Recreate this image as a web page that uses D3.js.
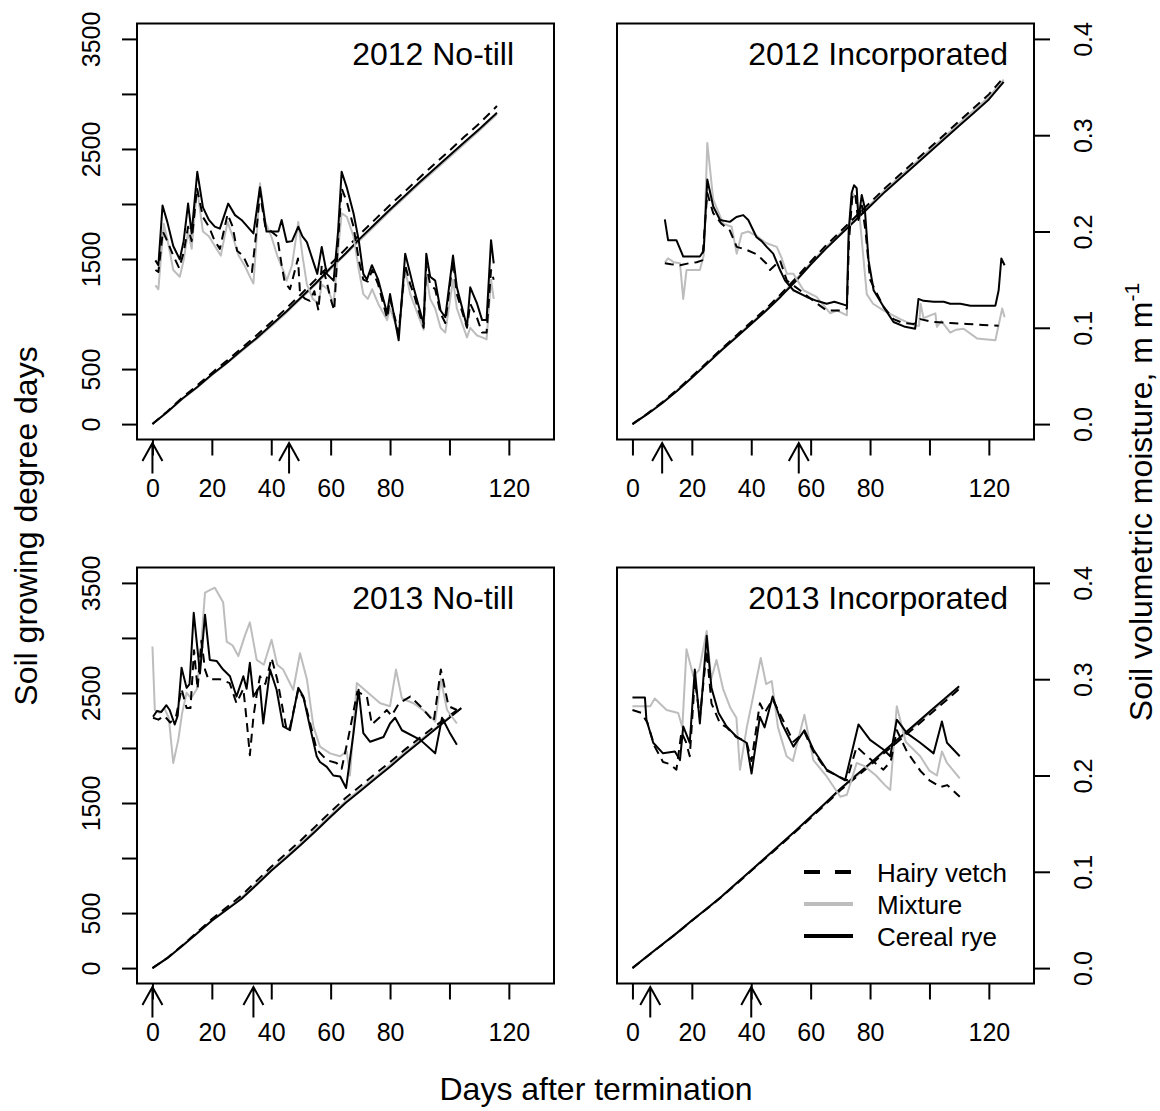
<!DOCTYPE html>
<html>
<head>
<meta charset="utf-8">
<script src="https://cdn.jsdelivr.net/npm/d3@7"></script>
<style>
  body { margin: 0; background: #fff; }
  svg { display: block; }
  text { font-family: "Liberation Sans", Arial, Helvetica, sans-serif; fill: #000; }
</style>
</head>
<body>
<svg id="fig" width="1160" height="1111"></svg>
<script>
// ---------------- data ----------------
const panelTitles = ["2012 No-till", "2012 Incorporated", "2013 No-till", "2013 Incorporated"];
const treatments = ["Hairy vetch", "Mixture", "Cereal rye"];
const xTicks = [0, 20, 40, 60, 80, 100, 120];
const xTickLabels = ["0", "20", "40", "60", "80", "", "120"];
const gddTicks = [0, 500, 1000, 1500, 2000, 2500, 3000, 3500];
const gddTickLabels = ["0", "500", "", "1500", "", "2500", "", "3500"];
const moistTicks = [0, 0.1, 0.2, 0.3, 0.4];
const moistTickLabels = ["0.0", "0.1", "0.2", "0.3", "0.4"];
// days of the two arrows under each panel
const arrowDays = [[0, 46], [10, 56], [0, 34], [6, 40]];

// cumulative soil growing degree days: [day, GDD]
const gdd12NT_hv  = [[0,0],[5,115],[10,240],[15,350],[20,465],[25,575],[30,690],[35,805],[40,925],[45,1050],[50,1180],[55,1315],[60,1455],[65,1590],[70,1730],[75,1860],[80,1990],[85,2115],[90,2240],[95,2365],[100,2485],[105,2610],[110,2730],[116,2890]];
const gdd12NT_mix = [[0,0],[5,108],[10,225],[15,330],[20,443],[25,550],[30,662],[35,772],[40,890],[45,1010],[50,1140],[55,1270],[60,1408],[65,1540],[70,1675],[75,1805],[80,1935],[85,2060],[90,2185],[95,2305],[100,2425],[105,2545],[110,2665],[116,2815]];
const gdd12NT_rye = [[0,0],[5,110],[10,230],[15,335],[20,450],[25,555],[30,670],[35,780],[40,900],[45,1020],[50,1150],[55,1280],[60,1420],[65,1550],[70,1690],[75,1820],[80,1950],[85,2075],[90,2200],[95,2320],[100,2440],[105,2560],[110,2680],[116,2830]];

const gdd12Inc_hv  = [[0,0],[5,95],[10,198],[15,310],[20,432],[25,558],[30,684],[35,806],[40,928],[45,1050],[50,1182],[55,1325],[60,1476],[65,1618],[70,1750],[75,1882],[80,2012],[85,2143],[90,2265],[95,2386],[100,2508],[105,2630],[110,2752],[115,2874],[120,2996],[125,3150]];
const gdd12Inc_mix = [[0,0],[5,92],[10,194],[15,305],[20,426],[25,551],[30,677],[35,798],[40,919],[45,1040],[50,1171],[55,1312],[60,1463],[65,1604],[70,1735],[75,1866],[80,1996],[85,2126],[90,2247],[95,2368],[100,2489],[105,2610],[110,2731],[115,2852],[120,2973],[125,3130]];
const gdd12Inc_rye = [[0,0],[5,90],[10,190],[15,300],[20,420],[25,545],[30,670],[35,790],[40,910],[45,1030],[50,1160],[55,1300],[60,1450],[65,1590],[70,1720],[75,1850],[80,1980],[85,2110],[90,2230],[95,2350],[100,2470],[105,2590],[110,2710],[115,2830],[120,2950],[125,3110]];

const gdd13NT_hv  = [[0,0],[5,92],[10,205],[15,325],[20,445],[25,552],[30,660],[35,790],[40,920],[45,1040],[50,1162],[55,1290],[60,1420],[65,1545],[70,1655],[75,1765],[80,1872],[85,1985],[90,2092],[95,2195],[100,2295],[104,2372]];
const gdd13NT_mix = [[0,0],[5,90],[10,202],[15,318],[20,435],[25,538],[30,640],[35,768],[40,895],[45,1012],[50,1135],[55,1260],[60,1390],[65,1515],[70,1625],[75,1735],[80,1845],[85,1958],[90,2068],[95,2175],[100,2282],[104,2365]];
const gdd13NT_rye = [[0,0],[5,90],[10,200],[15,315],[20,430],[25,530],[30,630],[35,755],[40,885],[45,1000],[50,1120],[55,1245],[60,1375],[65,1500],[70,1610],[75,1720],[80,1830],[85,1945],[90,2055],[95,2165],[100,2275],[104,2362]];

const gdd13Inc_hv  = [[0,0],[6,128],[10,212],[15,318],[20,430],[25,538],[30,646],[35,764],[40,884],[45,1002],[50,1120],[55,1240],[60,1364],[65,1488],[70,1615],[75,1728],[80,1842],[85,1960],[90,2072],[95,2185],[100,2302],[105,2418],[110,2535]];
const gdd13Inc_mix = [[0,0],[6,129],[10,214],[15,319],[20,432],[25,539],[30,648],[35,767],[40,887],[45,1006],[50,1125],[55,1245],[60,1370],[65,1494],[70,1622],[75,1737],[80,1851],[85,1970],[90,2084],[95,2198],[100,2316],[105,2432],[110,2548]];
const gdd13Inc_rye = [[0,0],[6,130],[10,215],[15,320],[20,433],[25,540],[30,650],[35,770],[40,890],[45,1010],[50,1130],[55,1250],[60,1375],[65,1500],[70,1630],[75,1745],[80,1860],[85,1980],[90,2095],[95,2210],[100,2330],[105,2445],[110,2560]];

// soil volumetric moisture: [day, m m-1]
const sm12NT_hv = [[1,0.160],[2,0.158],[3.5,0.200],[5,0.190],[7,0.175],[9,0.162],[10.5,0.178],[12,0.205],[13.2,0.190],[15,0.245],[17,0.215],[19,0.205],[21,0.190],[22.7,0.182],[25.3,0.218],[27,0.205],[28.5,0.180],[30.5,0.175],[32,0.165],[33.5,0.158],[35,0.200],[36.2,0.240],[38,0.205],[40,0.200],[42,0.195],[43.5,0.165],[44.5,0.148],[46.3,0.140],[48,0.160],[49,0.172],[49.7,0.135],[51.5,0.130],[53,0.128],[54.5,0.138],[55.9,0.118],[57,0.165],[58.5,0.150],[60,0.130],[61.2,0.118],[62.5,0.190],[63.7,0.245],[65.5,0.230],[67.7,0.205],[69.5,0.170],[71,0.150],[72.5,0.148],[74,0.160],[76,0.145],[79,0.110],[80,0.130],[82.9,0.095],[85.1,0.165],[86.8,0.145],[88,0.135],[91.3,0.100],[92.2,0.165],[93.5,0.145],[95.2,0.140],[97,0.115],[98.6,0.105],[101.2,0.170],[102.5,0.135],[105.9,0.100],[107,0.125],[109.3,0.110],[111,0.095],[112.5,0.095],[114,0.160],[114.9,0.150]];
const sm12NT_mix = [[1,0.144],[2,0.140],[3.8,0.208],[5.5,0.185],[7,0.160],[9.2,0.153],[10.5,0.170],[12,0.200],[13.2,0.182],[15,0.245],[17,0.200],[19,0.195],[21,0.185],[23,0.175],[25.3,0.210],[27,0.195],[29,0.175],[31,0.165],[33,0.152],[34,0.146],[35,0.190],[36.2,0.250],[38,0.210],[40,0.195],[42,0.175],[44,0.160],[45.2,0.149],[47,0.165],[49.1,0.210],[50.5,0.175],[52,0.145],[54,0.130],[56,0.125],[57,0.145],[59,0.140],[61,0.125],[62.5,0.180],[63.7,0.219],[65.5,0.215],[67.7,0.195],[69.5,0.160],[71,0.135],[72.5,0.130],[74,0.140],[76,0.125],[79,0.108],[80,0.120],[82.9,0.095],[85.1,0.160],[86.8,0.135],[88,0.125],[91.3,0.098],[92.2,0.155],[93.5,0.130],[95.2,0.120],[97,0.100],[98.6,0.095],[101.2,0.150],[102.5,0.120],[105.9,0.090],[107,0.100],[109.3,0.092],[111,0.090],[112.5,0.088],[114,0.150],[114.9,0.130]];
const sm12NT_rye = [[1,0.170],[2,0.165],[3.4,0.227],[5,0.210],[7,0.185],[9.2,0.171],[10.5,0.190],[12,0.229],[13.2,0.198],[15.1,0.262],[17,0.225],[19,0.212],[21,0.205],[22.7,0.203],[25.5,0.229],[27.8,0.217],[30,0.212],[32,0.205],[34,0.198],[36.2,0.246],[38.4,0.200],[42.4,0.200],[43.5,0.212],[45.2,0.189],[47,0.190],[49.1,0.205],[50.5,0.195],[52,0.189],[54,0.170],[55.5,0.156],[57,0.184],[58.7,0.156],[61,0.149],[62.5,0.200],[63.7,0.262],[65.5,0.245],[67.7,0.219],[69.5,0.190],[71,0.156],[72.2,0.150],[73.9,0.165],[76,0.150],[79,0.115],[80,0.135],[81.5,0.110],[82.9,0.087],[85.1,0.177],[86.8,0.156],[87.9,0.142],[91.3,0.104],[92.2,0.177],[93.5,0.153],[95.2,0.149],[97,0.118],[98.6,0.111],[101.2,0.175],[102.5,0.142],[105.9,0.101],[107,0.142],[109.3,0.125],[111,0.108],[112.5,0.108],[114,0.191],[114.9,0.167]];

const sm12Inc_hv = [[10.9,0.167],[13,0.166],[16,0.165],[19,0.167],[21.6,0.168],[23.5,0.170],[25.2,0.240],[27.2,0.219],[30,0.208],[32.8,0.201],[35.1,0.184],[38.4,0.181],[42,0.176],[45,0.167],[46.3,0.160],[48,0.165],[49.7,0.170],[52,0.149],[56.4,0.139],[60.9,0.128],[65.4,0.118],[69.9,0.118],[72.2,0.120],[72.9,0.190],[74,0.235],[75,0.240],[76,0.210],[77.2,0.228],[78.5,0.200],[80,0.150],[84.5,0.122],[87.9,0.109],[91,0.105],[94.7,0.104],[96.9,0.109],[101.4,0.106],[107,0.105],[112.6,0.104],[118,0.103],[123.3,0.102]];
const sm12Inc_mix = [[10.9,0.168],[12,0.172],[14,0.168],[16,0.167],[17.1,0.130],[18.2,0.160],[22.7,0.160],[24,0.175],[25.2,0.292],[27.2,0.233],[30.6,0.208],[33.4,0.205],[35.1,0.177],[36.8,0.198],[39,0.200],[42,0.195],[45,0.188],[48.6,0.184],[50.3,0.172],[52,0.156],[54.2,0.156],[57.6,0.139],[62,0.132],[66.6,0.115],[68.8,0.118],[72.2,0.113],[72.8,0.190],[74,0.240],[75.3,0.235],[76.5,0.215],[78.9,0.135],[81,0.125],[84.5,0.118],[90.2,0.109],[95.2,0.102],[96.5,0.102],[97,0.125],[98,0.110],[102,0.115],[102.5,0.101],[104,0.107],[107,0.095],[109,0.098],[111.5,0.099],[116,0.089],[122.2,0.087],[124.5,0.120],[125.3,0.111]];
const sm12Inc_rye = [[10.9,0.2125],[12,0.191],[14.8,0.191],[17.1,0.174],[22.7,0.174],[24,0.180],[25.2,0.254],[27.2,0.226],[29.5,0.212],[32.8,0.210],[35,0.215],[37.3,0.217],[39,0.212],[41.8,0.194],[43.5,0.190],[45.2,0.184],[47.4,0.177],[49.7,0.160],[51.4,0.149],[54.2,0.139],[58.7,0.132],[62,0.128],[65.4,0.125],[68,0.127],[72.2,0.123],[72.8,0.200],[73.8,0.240],[74.6,0.248],[75.5,0.245],[76.1,0.212],[77.2,0.238],[78.2,0.225],[79.5,0.170],[81.2,0.139],[84.5,0.122],[87.9,0.106],[91.8,0.101],[95.2,0.099],[96.3,0.130],[98,0.128],[101.4,0.127],[104.8,0.127],[107,0.125],[110.4,0.125],[113.8,0.123],[118,0.123],[122.2,0.123],[123.3,0.139],[124.2,0.172],[125.3,0.165]];

const sm13NT_hv = [[0.2,0.260],[2,0.258],[4,0.262],[6,0.255],[8,0.262],[9.8,0.290],[11.5,0.270],[12.8,0.270],[14,0.330],[15.2,0.290],[16.5,0.340],[17.7,0.310],[18.8,0.300],[22.7,0.300],[26,0.296],[28.3,0.275],[30.6,0.290],[31.7,0.258],[32.8,0.221],[34,0.261],[35,0.282],[36.2,0.303],[38,0.295],[40.1,0.322],[42,0.300],[45.2,0.247],[46.3,0.250],[49.1,0.289],[51,0.280],[55.3,0.227],[58.7,0.216],[62,0.213],[63.7,0.207],[66,0.240],[69,0.287],[72.2,0.282],[73.9,0.253],[76.7,0.261],[78.9,0.268],[80.5,0.262],[83,0.275],[86.8,0.282],[90.2,0.272],[94.7,0.256],[97.1,0.310],[99.7,0.272],[102.5,0.268]];
const sm13NT_mix = [[0,0.334],[0.8,0.268],[2.5,0.265],[4,0.270],[5.5,0.260],[7,0.213],[8.7,0.237],[10,0.265],[11.5,0.286],[13,0.280],[15,0.290],[16.5,0.340],[17.7,0.390],[19,0.392],[21,0.395],[23.8,0.380],[25,0.339],[27,0.335],[28.9,0.324],[31.1,0.345],[32.8,0.359],[35.1,0.320],[37.5,0.315],[40.1,0.341],[42,0.315],[44,0.310],[47.4,0.289],[49.7,0.327],[52,0.300],[54.2,0.251],[56.4,0.230],[59.8,0.223],[63.2,0.220],[65.4,0.225],[66.5,0.200],[68.8,0.296],[72.2,0.287],[76.7,0.275],[80,0.272],[82,0.310],[84,0.280],[87.9,0.275],[92.4,0.265],[95.2,0.256],[97.1,0.300],[99.2,0.268],[102.5,0.254]];
const sm13NT_rye = [[0.2,0.261],[1.5,0.267],[3,0.266],[4.7,0.273],[5.8,0.268],[7.5,0.253],[8.5,0.262],[9.8,0.312],[11.5,0.291],[12.5,0.295],[13.9,0.369],[16,0.306],[17.7,0.367],[19.3,0.320],[21.6,0.319],[23.8,0.310],[26.1,0.303],[28.3,0.282],[30.6,0.303],[31.7,0.290],[32.8,0.317],[34,0.282],[36.2,0.293],[37.3,0.254],[39.6,0.310],[41.8,0.289],[44,0.251],[46.3,0.247],[49.1,0.291],[50.8,0.282],[53,0.251],[55.3,0.220],[56.4,0.214],[58.7,0.209],[60.9,0.200],[63.2,0.199],[65.2,0.187],[67.7,0.244],[69.4,0.289],[71,0.244],[73.3,0.235],[77.8,0.240],[80,0.254],[81.7,0.260],[84,0.247],[90.2,0.237],[95.2,0.223],[97.5,0.260],[100,0.245],[102.5,0.232]];

const sm13Inc_hv = [[0,0.268],[3,0.265],[5,0.255],[7.5,0.230],[10.3,0.214],[12.5,0.212],[14.8,0.206],[16.5,0.245],[18,0.235],[19.3,0.220],[21,0.300],[22.7,0.260],[25,0.330],[26.6,0.275],[29.5,0.254],[31.7,0.250],[35,0.240],[38.4,0.235],[40.1,0.215],[42.9,0.275],[44.5,0.265],[47.2,0.279],[50.3,0.260],[54.2,0.235],[57.9,0.245],[60.9,0.225],[65.4,0.205],[72.2,0.195],[75.5,0.230],[78.9,0.220],[84.5,0.206],[87,0.215],[89,0.247],[92.4,0.225],[96.9,0.205],[100,0.195],[103.7,0.188],[106,0.190],[110.2,0.178]];
const sm13Inc_mix = [[0,0.272],[6,0.272],[7.5,0.280],[11.5,0.268],[15.4,0.265],[16.8,0.250],[18.2,0.331],[20.5,0.303],[22.5,0.310],[25,0.350],[26.5,0.300],[28.3,0.320],[30.5,0.290],[33,0.270],[35,0.260],[36.2,0.206],[38.5,0.250],[40.5,0.280],[43.2,0.322],[45,0.295],[46.9,0.298],[49,0.250],[51.9,0.220],[54,0.215],[57.9,0.263],[60.9,0.216],[65.4,0.199],[70,0.178],[72.2,0.180],[75.5,0.213],[78,0.210],[82,0.200],[85,0.190],[86.8,0.185],[89,0.272],[92,0.235],[96.9,0.220],[100,0.205],[102.5,0.200],[104.2,0.225],[105.9,0.213],[110.2,0.197]];
const sm13Inc_rye = [[0,0.281],[4.2,0.281],[4.7,0.258],[7,0.234],[10.3,0.223],[14.3,0.225],[16,0.216],[17.1,0.251],[19.3,0.234],[21,0.310],[22.7,0.254],[25,0.345],[26.6,0.291],[29,0.265],[31.7,0.251],[35.1,0.240],[38.4,0.234],[40.1,0.202],[42.9,0.261],[44.5,0.250],[47.2,0.282],[50.3,0.254],[54.2,0.230],[57.9,0.247],[60.9,0.227],[65.4,0.206],[71.6,0.195],[76.1,0.253],[80,0.237],[84.5,0.227],[86.8,0.220],[89,0.258],[92.4,0.244],[96.9,0.234],[101.4,0.223],[104.2,0.256],[105.9,0.234],[110.2,0.220]];

// ---------------- drawing ----------------
const gddSeries = [
  [gdd12NT_hv, gdd12NT_mix, gdd12NT_rye],
  [gdd12Inc_hv, gdd12Inc_mix, gdd12Inc_rye],
  [gdd13NT_hv, gdd13NT_mix, gdd13NT_rye],
  [gdd13Inc_hv, gdd13Inc_mix, gdd13Inc_rye]
];
const moistSeries = [
  [sm12NT_hv, sm12NT_mix, sm12NT_rye],
  [sm12Inc_hv, sm12Inc_mix, sm12Inc_rye],
  [sm13NT_hv, sm13NT_mix, sm13NT_rye],
  [sm13Inc_hv, sm13Inc_mix, sm13Inc_rye]
];

// line style per treatment (hairy vetch, mixture, cereal rye)
const lineStyle = [
  { stroke: "#000", dash: "9,6" },
  { stroke: "#bdbdbd", dash: null },
  { stroke: "#000", dash: null }
];
const drawOrder = [1, 0, 2];

const svg = d3.select("#fig");
svg.append("rect").attr("width", 1160).attr("height", 1111).attr("fill", "#fff");

const frames = [
  { x0: 137, x1: 554, y0: 23.5, y1: 439.5, left: true,  right: false, titleX: 514 },
  { x0: 617, x1: 1034, y0: 23.5, y1: 439.5, left: false, right: true,  titleX: 1008 },
  { x0: 137, x1: 554, y0: 567.5, y1: 983.5, left: true,  right: false, titleX: 514 },
  { x0: 617, x1: 1034, y0: 567.5, y1: 983.5, left: false, right: true,  titleX: 1008 }
];

const tickFont = 25;

frames.forEach((f, p) => {
  const x = d3.scaleLinear().domain([-5.2, 135.2]).range([f.x0, f.x1]);
  const yG = d3.scaleLinear().domain([-140, 3640]).range([f.y1, f.y0]);
  const yM = d3.scaleLinear().domain([-0.016, 0.416]).range([f.y1, f.y0]);
  const g = svg.append("g");

  // x axis
  const xa = g.append("g").attr("transform", `translate(0,${f.y1})`)
    .call(d3.axisBottom(x).tickValues(xTicks).tickSize(16)
      .tickFormat((d, i) => xTickLabels[i]));
  xa.select(".domain").remove();
  xa.selectAll(".tick line").attr("stroke", "#000").attr("stroke-width", 2);
  xa.selectAll(".tick text").attr("y", 57.5).attr("dy", null)
    .attr("font-size", tickFont).attr("font-family", null).attr("fill", "#000");

  // left axis (GDD)
  if (f.left) {
    const ya = g.append("g").attr("transform", `translate(${f.x0},0)`)
      .call(d3.axisLeft(yG).tickValues(gddTicks).tickSize(15)
        .tickFormat((d, i) => gddTickLabels[i]));
    ya.select(".domain").remove();
    ya.selectAll(".tick line").attr("stroke", "#000").attr("stroke-width", 2);
    ya.selectAll(".tick text").attr("transform", "rotate(-90)")
      .attr("x", 0).attr("y", -37).attr("dy", null)
      .attr("text-anchor", "middle")
      .attr("font-size", tickFont).attr("font-family", null).attr("fill", "#000");
  }
  // right axis (moisture)
  if (f.right) {
    const ya = g.append("g").attr("transform", `translate(${f.x1},0)`)
      .call(d3.axisRight(yM).tickValues(moistTicks).tickSize(16)
        .tickFormat((d, i) => moistTickLabels[i]));
    ya.select(".domain").remove();
    ya.selectAll(".tick line").attr("stroke", "#000").attr("stroke-width", 2);
    ya.selectAll(".tick text").attr("transform", "rotate(-90)")
      .attr("x", 0).attr("y", 58).attr("dy", null)
      .attr("text-anchor", "middle")
      .attr("font-size", tickFont).attr("font-family", null).attr("fill", "#000");
  }

  // series
  const lineG = d3.line().x(d => x(d[0])).y(d => yG(d[1]));
  const lineM = d3.line().x(d => x(d[0])).y(d => yM(d[1]));
  drawOrder.forEach(t => {
    const st = lineStyle[t];
    g.append("path").datum(gddSeries[p][t]).attr("d", lineG)
      .attr("fill", "none").attr("stroke", st.stroke).attr("stroke-width", 2)
      .attr("stroke-dasharray", st.dash).attr("stroke-linejoin", "round");
  });
  drawOrder.forEach(t => {
    const st = lineStyle[t];
    g.append("path").datum(moistSeries[p][t]).attr("d", lineM)
      .attr("fill", "none").attr("stroke", st.stroke).attr("stroke-width", 2)
      .attr("stroke-dasharray", st.dash).attr("stroke-linejoin", "round");
  });

  // plot frame
  g.append("rect").attr("x", f.x0).attr("y", f.y0)
    .attr("width", f.x1 - f.x0).attr("height", f.y1 - f.y0)
    .attr("fill", "none").attr("stroke", "#000").attr("stroke-width", 2);

  // panel title
  g.append("text").attr("x", f.titleX).attr("y", f.y0 + 41.5)
    .attr("text-anchor", "end").attr("font-size", 32).text(panelTitles[p]);

  // arrows below the x axis
  arrowDays[p].forEach(d => {
    const ax = x(d), tip = f.y1 + 3.5, base = f.y1 + 34;
    g.append("path")
      .attr("d", `M${ax},${base}L${ax},${tip}M${ax - 10},${tip + 18}L${ax},${tip}L${ax + 10},${tip + 18}`)
      .attr("fill", "none").attr("stroke", "#000").attr("stroke-width", 2);
  });

  // legend
  if (p === 3) {
    const lg = g.append("g");
    treatments.forEach((name, t) => {
      const yy = 872 + t * 32;
      lg.append("line").attr("x1", 804).attr("x2", 853).attr("y1", yy).attr("y2", yy)
        .attr("stroke", lineStyle[t].stroke).attr("stroke-width", 4)
        .attr("stroke-dasharray", t === 0 ? "16,15" : null);
      lg.append("text").attr("x", 877).attr("y", yy + 9.5)
        .attr("font-size", 26).text(name);
    });
  }
});

// outer axis titles
svg.append("text").attr("transform", "translate(37,526) rotate(-90)")
  .attr("text-anchor", "middle").attr("font-size", 32).text("Soil growing degree days");
svg.append("text").attr("x", 596).attr("y", 1100)
  .attr("text-anchor", "middle").attr("font-size", 32).text("Days after termination");
const rt = svg.append("text").attr("transform", "translate(1152,502) rotate(-90)")
  .attr("text-anchor", "middle").attr("font-size", 32);
rt.append("tspan").text("Soil volumetric moisture, m m");
rt.append("tspan").attr("dy", -13).attr("font-size", 21).text("-1");
</script>
</body>
</html>
